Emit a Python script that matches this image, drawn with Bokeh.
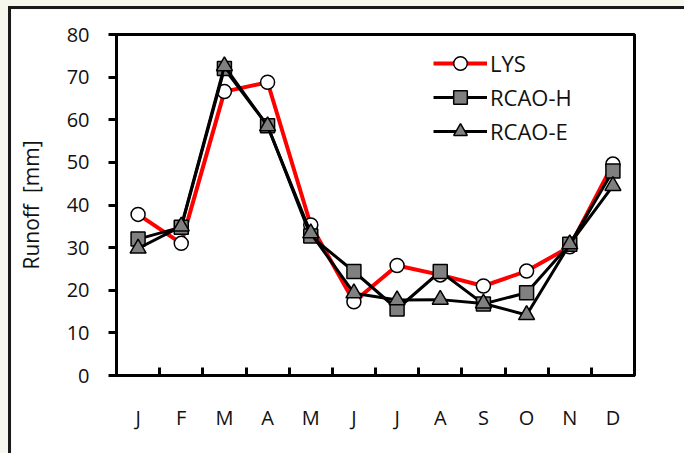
from bokeh.plotting import figure
from bokeh.layouts import column
from bokeh.models import FixedTicker, Range1d
from bokeh.embed import file_html
from bokeh.resources import INLINE

months = ["J", "F", "M", "A", "M", "J", "J", "A", "S", "O", "N", "D"]
month_pos = [1, 2, 3, 4, 5, 6, 7, 8, 9, 10, 11, 12]
lys = [37.8, 31.0, 66.6, 68.8, 35.3, 17.3, 25.8, 23.6, 21.0, 24.5, 30.2, 49.6]
rcao_h = [32.0, 34.8, 72.0, 58.6, 32.7, 24.4, 15.6, 24.4, 16.8, 19.4, 30.8, 48.0]
rcao_e = [29.8, 35.0, 72.6, 58.5, 33.4, 19.3, 17.7, 17.8, 16.9, 14.2, 30.8, 44.5]
y_ticks = [0, 10, 20, 30, 40, 50, 60, 70, 80]
y_title = "Runoff\u00a0\u00a0[mm]"

FONT = "Open Sans"

p = figure(width=676, height=447, output_backend="svg", toolbar_location=None,
           x_range=Range1d(0.5, 12.5), y_range=Range1d(0, 80),
           min_border_left=105, min_border_right=53, min_border_top=25, min_border_bottom=81)
p.styles = {"border-left": "3px solid #1a1a1a", "border-top": "3px solid #1a1a1a"}

p.xgrid.visible = False
p.ygrid.visible = False
p.outline_line_color = "black"
p.outline_line_width = 3
p.background_fill_color = "white"
p.border_fill_color = "white"

# x axis
xt = FixedTicker(ticks=month_pos, minor_ticks=[m + 0.5 for m in month_pos[:-1]])
p.xaxis.ticker = xt
p.xaxis.major_label_overrides = {m: lab for m, lab in zip(month_pos, months)}
p.xaxis.major_tick_line_color = None
p.xaxis.minor_tick_in = 8
p.xaxis.minor_tick_out = 0
p.xaxis.minor_tick_line_width = 3
p.xaxis.minor_tick_line_color = "black"
p.xaxis.axis_line_width = 3
p.xaxis.axis_line_color = "black"
p.xaxis.major_label_text_font = FONT
p.xaxis.major_label_text_font_size = "20px"
p.xaxis.major_label_text_color = "#111111"
p.xaxis.major_label_standoff = 22

# y axis
p.yaxis.ticker = FixedTicker(ticks=y_ticks, minor_ticks=[])
p.yaxis.major_tick_in = 0
p.yaxis.major_tick_out = 8
p.yaxis.major_tick_line_width = 3
p.yaxis.major_tick_line_color = "black"
p.yaxis.axis_line_width = 3
p.yaxis.axis_line_color = "black"
p.yaxis.major_label_text_font = FONT
p.yaxis.major_label_text_font_size = "20px"
p.yaxis.major_label_text_color = "#111111"
p.yaxis.major_label_standoff = 19
p.yaxis.axis_label = y_title
p.yaxis.axis_label_text_font = FONT
p.yaxis.axis_label_text_font_style = "normal"
p.yaxis.axis_label_text_font_size = "21px"
p.yaxis.axis_label_text_color = "#111111"
p.yaxis.axis_label_standoff = 19

# series
p.line(month_pos, lys, line_color="#ff0000", line_width=4, legend_label="LYS")
p.scatter(month_pos, lys, marker="circle", size=14, fill_color="white",
          line_color="black", line_width=1.5, legend_label="LYS")

p.line(month_pos, rcao_h, line_color="black", line_width=3, legend_label="RCAO-H")
p.scatter(month_pos, rcao_h, marker="square", size=14, fill_color="#808080",
          line_color="black", line_width=1.5, legend_label="RCAO-H")

p.line(month_pos, rcao_e, line_color="black", line_width=3, legend_label="RCAO-E")
p.scatter(month_pos, rcao_e, marker="triangle", size=16, fill_color="#808080",
          line_color="black", line_width=1.5, legend_label="RCAO-E")

lg = p.legend[0]
lg.location = (317, 227)
lg.margin = 0
lg.padding = 0
lg.spacing = 0
lg.glyph_width = 54
lg.glyph_height = 34
lg.label_height = 34
lg.label_standoff = 3
lg.border_line_color = None
lg.background_fill_alpha = 0
lg.label_text_font = FONT
lg.label_text_font_size = "22px"
lg.label_text_color = "#111111"

layout = column(p, styles={"background-color": "#f6f8ee", "padding-left": "8px",
                           "padding-top": "6px"})

open("out.html", "w").write(file_html(layout, INLINE))
